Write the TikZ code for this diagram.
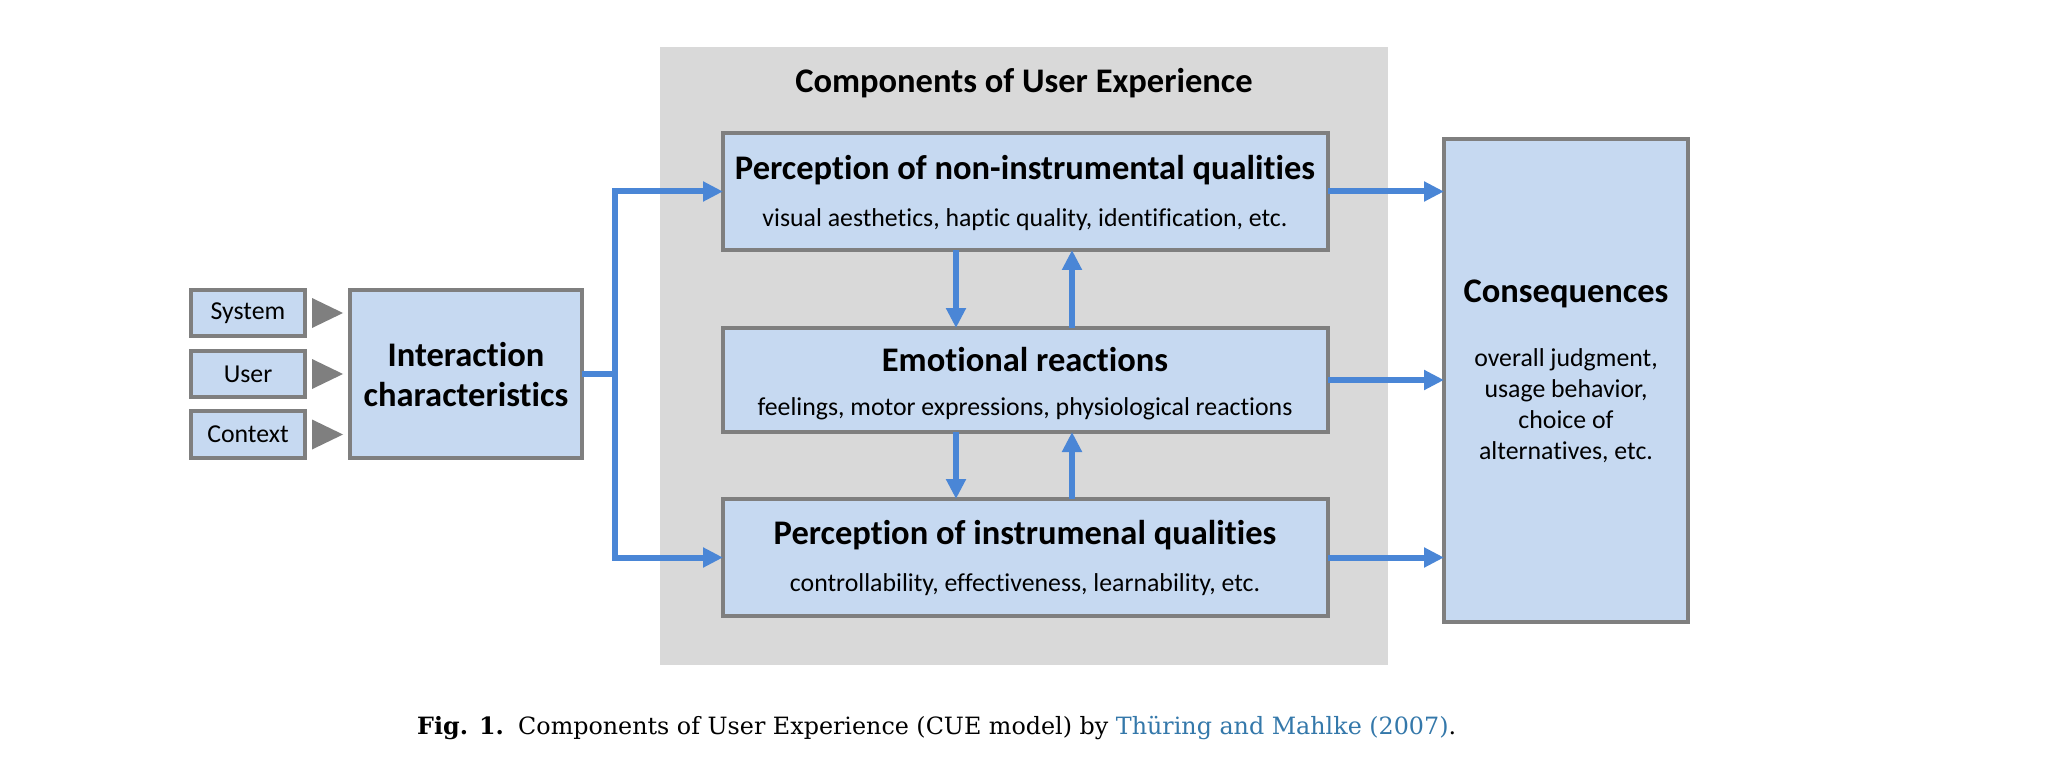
\documentclass[tikz,border=0pt]{standalone}
\usepackage{fontspec}
\setmainfont{Carlito}[Ligatures=CommonOff]
\newfontfamily\capfont{DejaVu Serif}
\usetikzlibrary{arrows.meta}
\definecolor{boxfill}{RGB}{198,217,241}
\definecolor{boxline}{RGB}{127,127,127}
\definecolor{panel}{RGB}{217,217,217}
\definecolor{arrowblue}{RGB}{74,134,214}
\definecolor{linkblue}{RGB}{52,120,170}
\begin{document}
\begin{tikzpicture}[x=1pt,y=-1pt,
  box/.style={draw=boxline, fill=boxfill, line width=4pt, inner sep=0pt, outer sep=0pt},
  arr/.style={draw=arrowblue, line width=6pt, -{Triangle[length=20pt,width=19pt]}},
  head/.style={font=\fontsize{34.5}{40}\selectfont\bfseries, inner sep=0pt},
  sub/.style={font=\fontsize{25.8}{31}\selectfont, inner sep=0pt},
  tri/.style={fill=boxline}
]
\useasboundingbox (0,0) rectangle (2046,778);
\fill[white] (0,0) rectangle (2046,778);
% panel
\fill[panel] (660,47) rectangle (1388,665);
\node[head] (title) at (1024,83) {Components of User Experience};
% boxes
\node[box, minimum width=605pt, minimum height=117pt] (top) at (1025.5,191.5) {};
\node[box, minimum width=605pt, minimum height=104pt] (mid) at (1025.5,380) {};
\node[box, minimum width=605pt, minimum height=117pt] (bot) at (1025.5,557.5) {};
\node[box, minimum width=244pt, minimum height=483pt] (cons) at (1566,380.5) {};
\node[box, minimum width=232pt, minimum height=168pt] (inter) at (466,374) {};
\node[box, minimum width=114pt, minimum height=46pt] (sys) at (248,313) {};
\node[box, minimum width=114pt, minimum height=46pt] (user) at (248,374) {};
\node[box, minimum width=114pt, minimum height=47pt] (ctx) at (248,434.5) {};
% texts
\node[head] (toph) at (1025,170) {Perception of non-instrumental qualities};
\node[sub] (tops) at (1025,220) {visual aesthetics, haptic quality, identification, etc.};
\node[head] (midh) at (1025,360) {Emotional reactions};
\node[sub] (mids) at (1025,409) {feelings, motor expressions, physiological reactions};
\node[head] (both) at (1025,535) {Perception of instrumenal qualities};
\node[sub] (bots) at (1025,585) {controllability, effectiveness, learnability, etc.};
\node[head, align=center] (interh) at (466,375) {Interaction\\characteristics};
\node[head] (consh) at (1566,294) {Consequences};
\node[sub, align=center] (conss) at (1566,406) {overall judgment,\\usage behavior,\\choice of\\alternatives, etc.};
\node[sub] (syst) at (sys) {System};
\node[sub] (usert) at (user) {User};
\node[sub] (ctxt) at (ctx) {Context};
% gray triangles
\fill[tri] (sys.east) ++(7,-15) -- ++(31,15) -- ++(-31,15) -- cycle;
\fill[tri] (user.east) ++(7,-15) -- ++(31,15) -- ++(-31,15) -- cycle;
\fill[tri] (ctx.east) ++(7,-15) -- ++(31,15) -- ++(-31,15) -- cycle;
% connectors
\coordinate (j) at (615,374);
\coordinate (dx) at (956,0);
\coordinate (ux) at (1072,0);
\draw[arr] (inter.east) -- (j) |- (top.west);
\draw[arr] (j) |- (bot.west);
\draw[arr] (top.south -| dx) -- (mid.north -| dx);
\draw[arr] (mid.north -| ux) -- (top.south -| ux);
\draw[arr] (mid.south -| dx) -- (bot.north -| dx);
\draw[arr] (bot.north -| ux) -- (mid.south -| ux);
\draw[arr] (top.east) -- (top.east -| cons.west);
\draw[arr] (mid.east) -- (mid.east -| cons.west);
\draw[arr] (bot.east) -- (bot.east -| cons.west);
% caption
\node[anchor=base west, inner sep=0pt, font=\capfont\fontsize{23.8}{28}\selectfont] (cap) at (417,734) {\textbf{Fig. 1.}\hspace{0.6em}Components of User Experience (CUE model) by \textcolor{linkblue}{Thüring and Mahlke (2007)}.};
\end{tikzpicture}
\end{document}
